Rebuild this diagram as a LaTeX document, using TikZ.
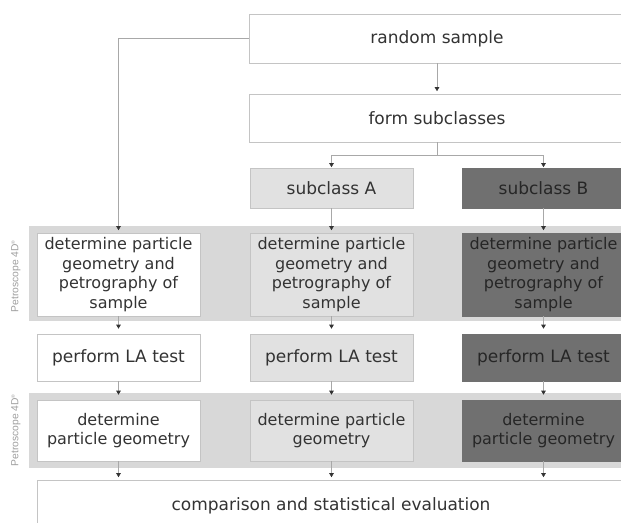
\documentclass[tikz,border=0pt]{standalone}
\usepackage{fontspec}
\setmainfont{DejaVu Sans}
\newfontfamily\tagfont{Liberation Sans}
\usepackage{tikz}
\usetikzlibrary{positioning,arrows.meta,calc}
\definecolor{txt}{HTML}{333333}
\definecolor{edge}{HTML}{C4C4C4}
\definecolor{band}{HTML}{D8D8D8}
\definecolor{light}{HTML}{E1E1E1}
\definecolor{dark}{HTML}{707070}
\definecolor{wire}{HTML}{A8A8A8}
\tikzset{
    box/.style={rectangle, draw=edge, line width=0.6pt, fill=white, text=txt, inner sep=0pt,
        align=center, minimum width=163pt, font=\fontsize{17}{20}\selectfont},
    wide_box/.style={box, minimum width=376pt},
    geo_box/.style={box, font=\fontsize{16}{19.6}\selectfont},
    boxA/.style={fill=light},
    boxB/.style={fill=dark, draw=dark, text=black!85},
    line/.style={draw=wire, line width=0.6pt},
    arr/.style={line, -{Triangle[length=4pt, width=4.5pt, color=txt]}, shorten >=2.5pt},
    tag/.style={rotate=90, text=black!38, font=\tagfont\fontsize{10.3}{12}\selectfont},
}
\begin{document}
\begin{tikzpicture}[x=1pt, y=-1pt]
        \useasboundingbox (0,0) rectangle (621,522);
        \clip (0,0) rectangle (621,522);

        % Grey bands for the Petroscope steps
        \fill[band] (29,226) rectangle (640,321);
        \fill[band] (29,393) rectangle (640,468);
        \node[tag] (tag1) at (16,276) {Petroscope 4D\textsuperscript{\tiny\textregistered}};
        \node[tag] (tag2) at (16,430) {Petroscope 4D\textsuperscript{\tiny\textregistered}};

        % Top of the flow
        \node[wide_box, minimum height=49pt] (rand) at (437,38.5) {random sample};
        \node[wide_box, minimum height=48pt] (form) at (437,118) {form subclasses};
        \node[box, boxA, minimum height=40pt] (subA) at (331.5,188) {subclass A};
        \node[box, boxB, minimum height=40pt] (subB) at (543.5,188) {subclass B};

        % Column of the whole sample
        \node[geo_box, minimum height=83pt] (geoS) at (118.5,274.5) {determine particle\\geometry and\\petrography of\\sample};
        \node[box, minimum height=47pt] (laS) at (118.5,357.5) {perform LA test};
        \node[geo_box, minimum height=61pt] (geomS) at (118.5,430.5) {determine\\particle geometry};

        % Column of subclass A
        \node[geo_box, boxA, minimum height=83pt] (geoA) at (331.5,274.5) {determine particle\\geometry and\\petrography of\\sample};
        \node[box, boxA, minimum height=47pt] (laA) at (331.5,357.5) {perform LA test};
        \node[geo_box, boxA, minimum height=61pt] (geomA) at (331.5,430.5) {determine particle\\geometry};

        % Column of subclass B
        \node[geo_box, boxB, minimum height=83pt] (geoB) at (543.5,274.5) {determine particle\\geometry and\\petrography of\\sample};
        \node[box, boxB, minimum height=47pt] (laB) at (543.5,357.5) {perform LA test};
        \node[geo_box, boxB, minimum height=61pt] (geomB) at (543.5,430.5) {determine\\particle geometry};

        % Bottom
        \node[box, minimum width=588pt, minimum height=52pt] (comp) at (331,506) {comparison and statistical evaluation};

        % Arrows at the top
        \draw[arr] (rand) -- (form);
        \draw[line] (form.south) -- ++(0,13) coordinate (split);
        \draw[arr, shorten >=0.5pt] (split) -| (subA.north);
        \draw[arr, shorten >=0.5pt] (split) -| (subB.north);
        \draw[arr] (rand.west) -| (geoS.north);
        \draw[arr] (subA) -- (geoA);
        \draw[arr] (subB) -- (geoB);

        % Arrows down the columns
        \foreach \col in {S,A,B} {
            \draw[arr, shorten >=5pt] (geo\col) -- (la\col);
            \draw[arr, shorten >=5pt] (la\col) -- (geom\col);
        }
        \draw[arr] (geomS.south) -- (geomS.south |- comp.north);
        \draw[arr] (geomA.south) -- (geomA.south |- comp.north);
        \draw[arr] (geomB.south) -- (geomB.south |- comp.north);
    \end{tikzpicture}
\end{document}
